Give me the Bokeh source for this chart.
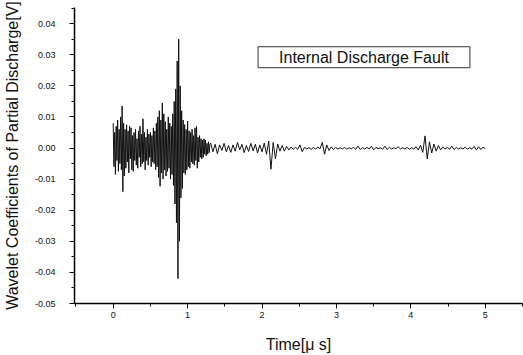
from bokeh.plotting import figure
from bokeh.models import SingleIntervalTicker, PrintfTickFormatter, Label, ColumnDataSource
from bokeh.embed import file_html
from bokeh.resources import INLINE
import numpy as np

# ---- data ----
# burst segment: sampled every 0.01 us starting at 0.00 us
burst_t0 = 0.0
burst_dt = 0.01
burst_v = [
    0.0080, -0.0060, 0.0050, -0.0085, 0.0070, -0.0040, 0.0090, -0.0075, 0.0060, -0.0050,
    0.0100, -0.0070, 0.0135, -0.0140, 0.0080, -0.0090, 0.0060, -0.0065, 0.0075, -0.0045,
    0.0055, -0.0080, 0.0070, -0.0035, 0.0065, -0.0070, 0.0040, -0.0075, 0.0050, -0.0040,
    0.0060, -0.0055, 0.0030, -0.0065, 0.0055, -0.0030, 0.0070, -0.0060, 0.0045, -0.0050,
    0.0094, -0.0045, 0.0050, -0.0070, 0.0035, -0.0040, 0.0060, -0.0055, 0.0045, -0.0030,
    0.0050, -0.0060, 0.0040, -0.0045, 0.0065, -0.0050, 0.0055, -0.0070, 0.0080, -0.0060,
    0.0100, -0.0095, 0.0120, -0.0123, 0.0090, -0.0080, 0.0145, -0.0100, 0.0110, -0.0070,
    0.0085, -0.0090, 0.0060, -0.0075, 0.0100, -0.0065, 0.0080, -0.0100, 0.0070, -0.0085,
    0.0110, -0.0120, 0.0150, -0.0180, 0.0190, -0.0240, 0.0280, -0.0420, 0.0350, -0.0300,
    0.0200, -0.0160, 0.0120, -0.0130, 0.0090, -0.0080, 0.0075, -0.0085, 0.0060, -0.0070,
    0.0087, -0.0060, 0.0055, -0.0065, 0.0050, -0.0045, 0.0060, -0.0050, 0.0040, -0.0055,
    0.0065, -0.0040, 0.0070, -0.0065, 0.0035, -0.0045, 0.0040, -0.0030, 0.0030, -0.0035,
    0.0025, -0.0030, 0.0030, -0.0020, 0.0025, -0.0025, 0.0015, -0.0020, 0.0020, -0.0015,
    0.0012,
]
# tail segment: sampled every 0.03 us starting at 1.31 us
tail_t0 = 1.31
tail_dt = 0.03
tail_v = [
    0.0016, -0.0012, 0.0012, -0.0018, 0.0010, -0.0008, 0.0015, -0.0012, 0.0008, -0.0014,
    0.0010, -0.0010, 0.0018, -0.0006, 0.0012, -0.0015, 0.0008, -0.0011, 0.0015, -0.0009,
    0.0012, -0.0016, 0.0010, -0.0012, 0.0016, -0.0020, 0.0022, -0.0068, 0.0018, -0.0035,
    0.0013, -0.0010, 0.0008, -0.0010, 0.0005, -0.0006, 0.0003, -0.0004, 0.0002, -0.0004,
    0.0010, -0.0012, 0.0002, -0.0003, 0.0001, -0.0004, 0.0002, -0.0003, 0.0003, -0.0002,
    0.0018, -0.0020, 0.0010, -0.0008, 0.0004, -0.0005, 0.0002, -0.0003, 0.0001, -0.0003,
    0.0002, -0.0004, 0.0001, -0.0002, 0.0002, -0.0004, 0.0006, -0.0005, 0.0001, -0.0003,
    0.0002, -0.0003, 0.0006, -0.0006, 0.0002, -0.0002, 0.0001, -0.0004, 0.0006, -0.0005,
    0.0002, -0.0003, 0.0001, -0.0002, 0.0004, -0.0003, 0.0001, -0.0003, 0.0002, -0.0004,
    0.0001, -0.0003, 0.0004, -0.0006, 0.0009, -0.0014, 0.0039, -0.0035, 0.0020, -0.0016,
    0.0013, -0.0010, 0.0008, -0.0006, 0.0004, -0.0003, 0.0002, -0.0004, 0.0006, -0.0005,
    0.0002, -0.0003, 0.0001, -0.0003, 0.0003, -0.0004, 0.0001, -0.0003, 0.0005, -0.0006,
    0.0004, -0.0005, 0.0003, -0.0002,
]
x_label = "Time[\u03bc s]"
y_label = "Wavelet Coefficients of Partial Discharge[V]"
legend_text = "Internal Discharge Fault"

t = np.concatenate([burst_t0 + burst_dt * np.arange(len(burst_v)),
                    tail_t0 + tail_dt * np.arange(len(tail_v))])
v = np.concatenate([burst_v, tail_v])
src = ColumnDataSource(dict(t=t, v=v))

FONT = "Liberation Sans"

p = figure(width=523, height=355, x_range=(-0.52, 5.5), y_range=(-0.05, 0.0452),
           output_backend="svg", toolbar_location=None,
           min_border_left=70, min_border_right=1, min_border_top=7, min_border_bottom=52)
p.outline_line_color = None
p.background_fill_color = "white"
p.border_fill_color = "white"
p.xgrid.visible = False
p.ygrid.visible = False

p.line("t", "v", source=src, line_color="#111111", line_width=1)

for ax in (p.xaxis[0], p.yaxis[0]):
    ax.axis_line_color = "black"
    ax.axis_line_width = 1.5
    ax.major_tick_line_color = "black"
    ax.minor_tick_line_color = "black"
    ax.major_tick_out = 5
    ax.major_tick_in = 0
    ax.minor_tick_out = 3
    ax.minor_tick_in = 0
    ax.major_label_text_font = FONT
    ax.major_label_text_font_size = "9px"
    ax.major_label_text_color = "#111111"
    ax.axis_label_text_font = FONT
    ax.axis_label_text_font_size = "16px"
    ax.axis_label_text_font_style = "normal"
    ax.axis_label_text_color = "#111111"

p.xaxis.ticker = SingleIntervalTicker(interval=1, num_minor_ticks=2)
p.yaxis.ticker = SingleIntervalTicker(interval=0.01, num_minor_ticks=2)
p.yaxis.formatter = PrintfTickFormatter(format="%.2f")
p.xaxis.formatter = PrintfTickFormatter(format="%d")
p.xaxis.axis_label = x_label
p.yaxis.axis_label = y_label
p.xaxis.major_label_standoff = 3
p.xaxis.axis_label_standoff = 15
p.yaxis.major_label_standoff = 14
p.yaxis.axis_label_standoff = 11

lab = Label(x=3.37, y=0.0292, text=legend_text, text_align="center", text_baseline="middle",
            text_font=FONT, text_font_size="16px", text_color="#111111",
            border_line_color="#333333", border_line_width=1,
            background_fill_color="white", padding=(21, 2))
p.add_layout(lab)

open("out.html", "w").write(file_html(p, INLINE))
